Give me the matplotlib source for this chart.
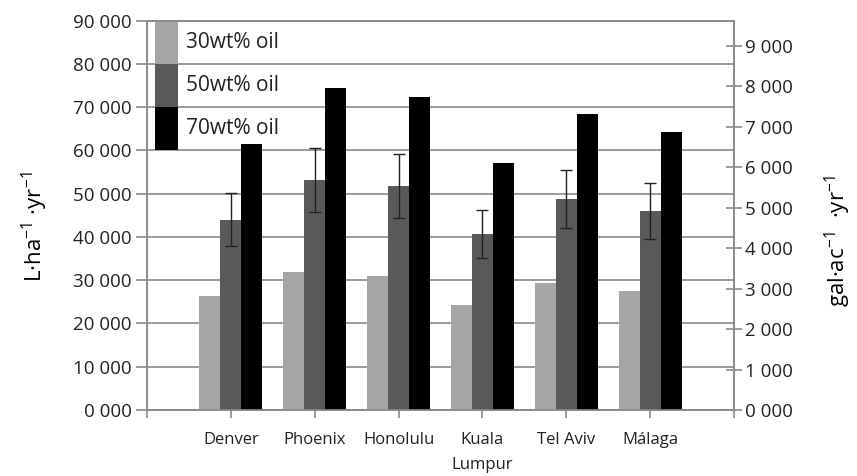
import matplotlib
matplotlib.use('Agg')
import matplotlib.pyplot as plt
import numpy as np
from matplotlib.ticker import FixedLocator, FuncFormatter

plt.rcParams['font.family'] = ['Open Sans', 'DejaVu Sans']
plt.rcParams['mathtext.fontset'] = 'custom'
plt.rcParams['mathtext.rm'] = 'Open Sans'

# 产油量数据 (L/ha/yr)
cities = ['Denver', 'Phoenix', 'Honolulu', 'Kuala\nLumpur', 'Tel Aviv', 'Málaga']
oil30 = [26300, 31800, 31000, 24300, 29300, 27600]
oil50 = [44000, 53200, 51800, 40700, 48800, 46000]
oil50_err = [6200, 7400, 7300, 5600, 6700, 6400]
oil70 = [61600, 74500, 72400, 57000, 68400, 64300]
labels = ['30wt% oil', '50wt% oil', '70wt% oil']
colors = ['#a6a6a6', '#595959', '#000000']

L_PER_GAL_AC = 9.354  # 1 gal/ac = 9.354 L/ha
grid_c = '#8a8a8a'
txt_c = '#222222'

fig, ax = plt.subplots(figsize=(8.57, 4.76), dpi=100)
fig.subplots_adjust(left=0.1715, right=0.8565, bottom=0.1387, top=0.9565)

x = np.arange(len(cities))
w = 0.25
ax.bar(x - w, oil30, w, color=colors[0], label=labels[0], zorder=3)
ax.bar(x, oil50, w, color=colors[1], label=labels[1], zorder=3)
ax.bar(x + w, oil70, w, color=colors[2], label=labels[2], zorder=3)
ax.errorbar(x, oil50, yerr=oil50_err, fmt='none', ecolor='#222222',
            elinewidth=1, capsize=4.5, capthick=1, zorder=4)

ax.set_xlim(-1, len(cities))
ax.set_ylim(0, 90000)
ax.set_yticks(np.arange(0, 90001, 10000))
fmt = FuncFormatter(lambda v, p: '{:d} {:03d}'.format(int(v) // 1000, int(v) % 1000))
ax.yaxis.set_major_formatter(fmt)
ax.yaxis.grid(True, color=grid_c, linewidth=1.2, zorder=0)
ax.set_axisbelow(True)

ax.xaxis.set_major_locator(FixedLocator(np.arange(-1, len(cities) + 1)))
ax.set_xticklabels([''] + cities + [''], fontsize=12, color=txt_c, linespacing=1.75)
ax.tick_params(axis='x', length=6, width=1.2, color=grid_c, pad=10)
ax.tick_params(axis='y', length=8, width=1.2, color=grid_c, labelsize=13.5,
               labelcolor=txt_c, pad=3)

for s in ['left', 'bottom', 'right', 'top']:
    ax.spines[s].set_color(grid_c)
    ax.spines[s].set_linewidth(1.2)

ax.set_ylabel(r'L·ha$^{\mathregular{-1}}$ ·yr$^{\mathregular{-1}}$', fontsize=16)
ax.yaxis.set_label_coords(-0.165, 0.47)

# 右轴: gal/ac/yr
ax2 = ax.twinx()
ax2.set_ylim(0, 90000 / L_PER_GAL_AC)
ax2.set_yticks(np.arange(0, 9001, 1000))
ax2.yaxis.set_major_formatter(fmt)
ax2.tick_params(axis='y', direction='inout', length=12, width=1.2, color=grid_c,
                labelsize=13.5, labelcolor=txt_c, pad=2)
for s in ax2.spines.values():
    s.set_color(grid_c)
    s.set_linewidth(1.2)
ax2.set_ylabel(r'gal·ac$^{\mathregular{-1}}$  ·yr$^{\mathregular{-1}}$', fontsize=16)
ax2.yaxis.set_label_coords(1.152, 0.434)

# 图例: 每行高度与网格间距一致
leg = ax.legend(loc='upper left', bbox_to_anchor=(0.0136, 1.0), frameon=False,
                fontsize=15, borderpad=0, borderaxespad=0, labelspacing=0,
                handlelength=1.1, handleheight=2.8, handletextpad=0.4)
for t in leg.get_texts():
    t.set_color(txt_c)

fig.savefig('out.png', dpi=100)
